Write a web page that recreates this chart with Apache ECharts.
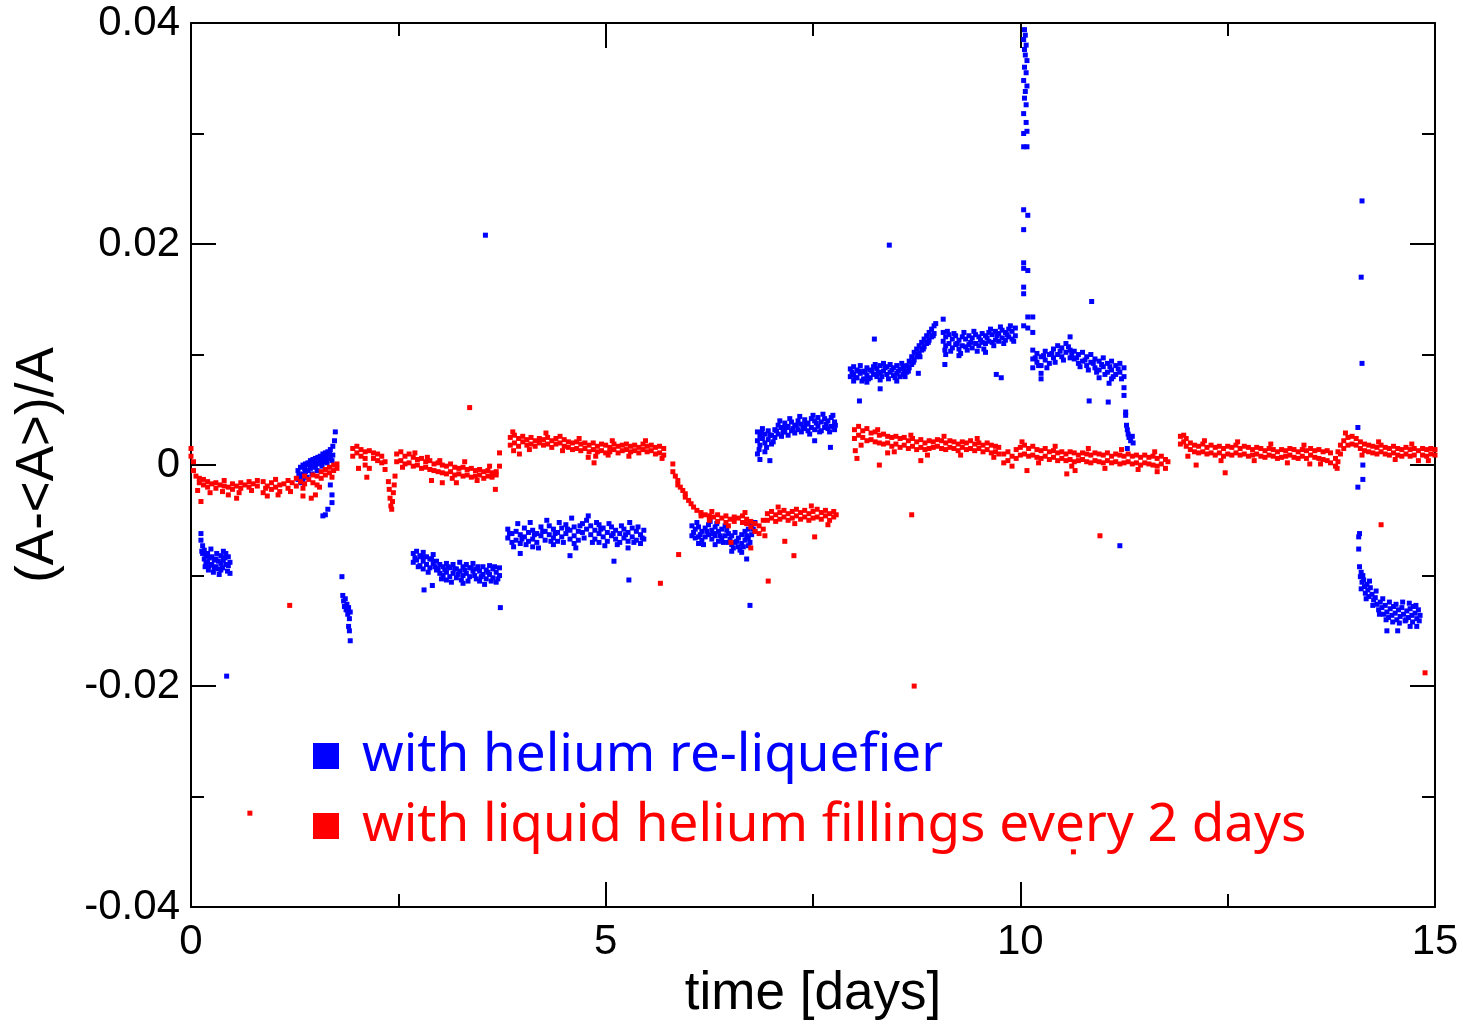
<!DOCTYPE html>
<html>
<head>
<meta charset="utf-8">
<script src="https://cdn.jsdelivr.net/npm/echarts@6/dist/echarts.min.js"></script>
<style>
  html, body { margin: 0; padding: 0; background: #fff; }
  #chart { width: 1463px; height: 1026px; }
</style>
</head>
<body>
<div id="chart"></div>
<script>
// x ticks / y ticks
var xTicks = [0, 5, 10, 15];
var yTicks = [-0.04, -0.02, 0, 0.02, 0.04];

// red: liquid helium fillings, [time, (A-<A>)/A]
var red1 = [[0.0,0.0015],[0.0,0.0008],[0.03,0.0003],[0.03,-0.0005],[0.06,-0.0010],[0.08,-0.0023],[0.10,-0.0012],[0.10,-0.0016],[0.12,-0.0033],[0.15,-0.0013],[0.15,-0.0018],[0.20,-0.0015],[0.20,-0.0020],[0.23,-0.0025],[0.25,-0.0017],[0.30,-0.0016],[0.30,-0.0021],[0.35,-0.0018],[0.38,-0.0024],[0.40,-0.0019],[0.40,-0.0014],[0.45,-0.0020],[0.45,-0.0027],[0.50,-0.0017],[0.50,-0.0022],[0.55,-0.0019],[0.55,-0.0030],[0.58,-0.0025],[0.60,-0.0016],[0.60,-0.0021],[0.65,-0.0018],[0.70,-0.0015],[0.70,-0.0020],[0.73,-0.0023],[0.75,-0.0017],[0.80,-0.0014],[0.80,-0.0019]];
var red2 = [[0.87,-0.0015],[0.87,-0.0025],[0.90,-0.0021],[0.92,-0.0019],[0.92,-0.0028],[0.97,-0.0016],[0.97,-0.0022],[1.02,-0.0020],[1.02,-0.0013],[1.05,-0.0027],[1.07,-0.0018],[1.07,-0.0024],[1.12,-0.0017],[1.17,-0.0014],[1.17,-0.0021],[1.20,-0.0024],[1.22,-0.0016],[1.27,-0.0012],[1.27,-0.0019],[1.32,-0.0015],[1.35,-0.0028],[1.35,-0.0021],[1.37,-0.0010],[1.37,-0.0017],[1.42,-0.0013],[1.45,-0.0030],[1.47,-0.0009],[1.47,-0.0016],[1.50,-0.0027],[1.52,-0.0010],[1.52,-0.0018],[1.55,-0.0020],[1.57,-0.0006],[1.57,-0.0012],[1.62,-0.0004],[1.62,-0.0009],[1.67,-0.0002],[1.67,-0.0007],[1.70,-0.0011],[1.72,0.0000],[1.72,-0.0005],[1.76,0.0001],[1.76,-0.0003]];
var red3 = [[1.95,0.0015],[1.95,0.0008],[2.00,0.0017],[2.00,0.0011],[2.02,-0.0003],[2.05,0.0014],[2.05,0.0008],[2.10,0.0012],[2.10,0.0006],[2.10,0.0000],[2.12,-0.0011],[2.15,0.0013],[2.15,-0.0003],[2.20,0.0011],[2.20,0.0006],[2.25,0.0010],[2.25,0.0004],[2.30,0.0008],[2.30,0.0002],[2.34,0.0003],[2.34,-0.0004],[2.38,-0.0015],[2.39,-0.0022],[2.40,-0.0030],[2.41,-0.0037],[2.42,-0.0040],[2.43,-0.0033],[2.44,-0.0025],[2.45,-0.0018],[2.46,-0.0010]];
var red4 = [[2.48,0.0010],[2.48,0.0003],[2.53,0.0012],[2.53,0.0004],[2.55,-0.0002],[2.58,0.0008],[2.58,0.0001],[2.63,0.0010],[2.63,0.0002],[2.68,0.0007],[2.68,-0.0001],[2.70,0.0011],[2.73,0.0005],[2.73,0.0000],[2.78,0.0006],[2.78,-0.0003],[2.83,0.0003],[2.83,-0.0002],[2.85,0.0007],[2.88,0.0004],[2.88,-0.0004],[2.90,-0.0014],[2.93,0.0001],[2.93,-0.0005],[2.98,0.0002],[2.98,-0.0006],[3.00,0.0004],[3.03,0.0000],[3.03,-0.0007],[3.03,-0.0016],[3.08,-0.0001],[3.08,-0.0008],[3.13,0.0001],[3.13,-0.0006],[3.15,-0.0012],[3.18,-0.0002],[3.18,-0.0009],[3.20,-0.0016],[3.23,-0.0003],[3.23,-0.0008],[3.28,-0.0002],[3.28,-0.0010],[3.30,0.0003],[3.33,-0.0004],[3.33,-0.0009],[3.38,-0.0003],[3.38,-0.0011],[3.43,-0.0005],[3.43,-0.0010],[3.45,-0.0014],[3.48,-0.0004],[3.48,-0.0009],[3.53,-0.0006],[3.53,-0.0012],[3.58,-0.0005],[3.58,-0.0010],[3.60,-0.0001],[3.63,-0.0007],[3.63,-0.0011],[3.67,-0.0022],[3.68,-0.0006],[3.68,-0.0009],[3.72,0.0011],[3.72,-0.0001]];
var red5 = [[3.85,0.0025],[3.85,0.0018],[3.88,0.0030],[3.89,0.0013],[3.90,0.0027],[3.90,0.0020],[3.95,0.0024],[3.95,0.0017],[3.96,0.0010],[4.00,0.0026],[4.00,0.0021],[4.05,0.0023],[4.05,0.0018],[4.08,0.0014],[4.10,0.0025],[4.10,0.0019],[4.15,0.0022],[4.15,0.0017],[4.20,0.0024],[4.20,0.0020],[4.25,0.0023],[4.25,0.0018],[4.28,0.0029],[4.30,0.0025],[4.30,0.0019],[4.35,0.0022],[4.35,0.0016],[4.40,0.0024],[4.40,0.0019],[4.45,0.0026],[4.45,0.0020],[4.48,0.0013],[4.50,0.0023],[4.50,0.0017],[4.55,0.0021],[4.55,0.0016],[4.60,0.0020],[4.60,0.0014],[4.65,0.0021],[4.65,0.0015],[4.68,0.0024],[4.70,0.0019],[4.70,0.0013],[4.75,0.0020],[4.75,0.0015],[4.79,0.0007],[4.80,0.0018],[4.80,0.0012],[4.85,0.0020],[4.85,0.0014],[4.86,0.0002],[4.88,0.0008],[4.90,0.0017],[4.90,0.0012],[4.95,0.0019],[4.95,0.0013],[5.00,0.0018],[5.00,0.0011],[5.03,0.0009],[5.05,0.0016],[5.05,0.0012],[5.08,0.0022],[5.10,0.0019],[5.10,0.0014],[5.15,0.0017],[5.15,0.0011],[5.20,0.0018],[5.20,0.0013],[5.25,0.0019],[5.25,0.0014],[5.28,0.0008],[5.30,0.0017],[5.30,0.0012],[5.35,0.0018],[5.35,0.0013],[5.40,0.0016],[5.40,0.0011],[5.45,0.0019],[5.45,0.0014],[5.48,0.0022],[5.50,0.0017],[5.50,0.0012],[5.55,0.0018],[5.55,0.0013],[5.60,0.0016],[5.60,0.0010],[5.65,0.0017],[5.65,0.0011],[5.68,0.0006],[5.70,0.0015],[5.70,0.0009]];
var red6 = [[5.81,0.0001],[5.81,-0.0006],[5.84,-0.0010],[5.87,-0.0014],[5.87,-0.0018],[5.88,-0.0081],[5.90,-0.0020],[5.93,-0.0023],[5.96,-0.0026],[5.96,-0.0029],[6.00,-0.0032],[6.03,-0.0035],[6.06,-0.0038],[6.10,-0.0041],[6.15,-0.0043],[6.15,-0.0046],[6.20,-0.0045],[6.25,-0.0046],[6.25,-0.0050],[6.28,-0.0042],[6.30,-0.0047],[6.35,-0.0045],[6.35,-0.0051],[6.40,-0.0048],[6.45,-0.0046],[6.45,-0.0052],[6.48,-0.0055],[6.50,-0.0049],[6.51,-0.0070],[6.55,-0.0047],[6.55,-0.0051],[6.60,-0.0048],[6.65,-0.0046],[6.65,-0.0052],[6.68,-0.0043],[6.70,-0.0049],[6.70,-0.0053],[6.75,-0.0051],[6.75,-0.0056],[6.75,-0.0075],[6.80,-0.0053],[6.80,-0.0060],[6.85,-0.0055],[6.85,-0.0062],[6.90,-0.0050],[6.90,-0.0058],[6.92,-0.0064],[6.95,-0.0044],[6.95,-0.0050],[7.00,-0.0042],[7.00,-0.0048],[7.05,-0.0045],[7.05,-0.0051],[7.08,-0.0038],[7.10,-0.0043],[7.10,-0.0049],[7.15,-0.0041],[7.15,-0.0047],[7.16,-0.0069],[7.20,-0.0044],[7.20,-0.0050],[7.25,-0.0042],[7.25,-0.0048],[7.27,-0.0082],[7.28,-0.0053],[7.30,-0.0040],[7.30,-0.0046],[7.35,-0.0043],[7.35,-0.0049],[7.40,-0.0041],[7.40,-0.0047],[7.45,-0.0044],[7.45,-0.0050],[7.48,-0.0037],[7.50,-0.0042],[7.50,-0.0048],[7.52,-0.0065],[7.55,-0.0040],[7.55,-0.0047],[7.60,-0.0043],[7.60,-0.0049],[7.65,-0.0041],[7.65,-0.0046],[7.68,-0.0054],[7.70,-0.0044],[7.70,-0.0050],[7.75,-0.0042],[7.75,-0.0047],[7.78,-0.0045]];
var red7 = [[8.00,0.0032],[8.00,0.0024],[8.01,0.0013],[8.03,0.0006],[8.05,0.0035],[8.05,0.0027],[8.08,0.0018],[8.10,0.0031],[8.10,0.0025],[8.15,0.0033],[8.15,0.0022],[8.20,0.0029],[8.20,0.0023],[8.25,0.0030],[8.25,0.0021],[8.28,0.0032],[8.30,0.0027],[8.30,0.0020],[8.30,0.0000],[8.35,0.0028],[8.35,0.0019],[8.40,0.0026],[8.40,0.0020],[8.40,0.0011],[8.45,0.0025],[8.45,0.0017],[8.48,0.0012],[8.50,0.0026],[8.50,0.0019],[8.55,0.0024],[8.55,0.0016],[8.60,0.0025],[8.60,0.0018],[8.65,0.0022],[8.65,0.0015],[8.68,0.0027],[8.70,0.0024],[8.70,0.0017],[8.75,0.0021],[8.75,0.0014],[8.80,0.0023],[8.80,0.0016],[8.80,0.0004],[8.85,0.0020],[8.85,0.0014],[8.88,0.0009],[8.90,0.0022],[8.90,0.0015],[8.95,0.0021],[8.95,0.0016],[9.00,0.0023],[9.00,0.0017],[9.05,0.0022],[9.05,0.0015],[9.08,0.0026],[9.10,0.0020],[9.10,0.0014],[9.15,0.0022],[9.15,0.0016],[9.20,0.0021],[9.20,0.0015],[9.25,0.0019],[9.25,0.0013],[9.28,0.0009],[9.30,0.0021],[9.30,0.0016],[9.35,0.0020],[9.35,0.0014],[9.40,0.0022],[9.40,0.0015],[9.45,0.0019],[9.45,0.0013],[9.48,0.0024],[9.50,0.0020],[9.50,0.0015],[9.55,0.0018],[9.55,0.0012],[9.60,0.0020],[9.60,0.0014],[9.65,0.0018],[9.65,0.0011],[9.68,0.0007],[9.70,0.0017],[9.70,0.0012],[9.74,0.0016],[9.74,0.0010]];
var red8 = [[9.80,0.0010],[9.80,0.0002],[9.85,0.0012],[9.85,0.0004],[9.90,0.0008],[9.90,-0.0001],[9.95,0.0014],[9.95,0.0006],[10.00,0.0016],[10.00,0.0009],[10.02,0.0021],[10.05,0.0018],[10.05,0.0010],[10.08,-0.0005],[10.10,0.0015],[10.10,0.0008],[10.15,0.0017],[10.15,0.0009],[10.20,0.0014],[10.20,0.0007],[10.22,0.0002],[10.25,0.0013],[10.25,0.0006],[10.30,0.0015],[10.30,0.0008],[10.35,0.0012],[10.35,0.0005],[10.40,0.0013],[10.40,0.0007],[10.42,0.0017],[10.45,0.0011],[10.45,0.0004],[10.50,0.0012],[10.50,0.0006],[10.55,0.0010],[10.55,0.0004],[10.56,-0.0008],[10.60,0.0012],[10.60,0.0005],[10.62,-0.0001],[10.65,0.0011],[10.65,0.0003],[10.66,-0.0005],[10.70,0.0009],[10.70,0.0004],[10.75,0.0011],[10.75,0.0005],[10.80,0.0010],[10.80,0.0003],[10.82,0.0015],[10.85,0.0009],[10.85,0.0002],[10.90,0.0011],[10.90,0.0004],[10.95,0.0010],[10.95,0.0003],[11.00,0.0009],[11.00,0.0002],[11.02,-0.0003],[11.05,0.0011],[11.05,0.0004],[11.10,0.0008],[11.10,0.0002],[11.15,0.0010],[11.15,0.0003],[11.20,0.0009],[11.20,0.0001],[11.22,0.0014],[11.25,0.0008],[11.25,0.0002],[11.30,0.0010],[11.30,0.0003],[11.35,0.0008],[11.35,0.0001],[11.40,0.0009],[11.40,0.0002],[11.42,-0.0004],[11.45,0.0007],[11.45,0.0000],[11.50,0.0009],[11.50,0.0002],[11.55,0.0007],[11.55,0.0001],[11.60,0.0008],[11.60,0.0000],[11.62,0.0012],[11.65,0.0006],[11.65,-0.0001],[11.65,-0.0006],[11.70,0.0008],[11.70,0.0001],[11.75,0.0005],[11.75,-0.0003],[11.78,0.0003]];
var red9 = [[11.93,0.0026],[11.93,0.0019],[11.97,0.0027],[11.97,0.0021],[12.00,0.0024],[12.00,0.0017],[12.02,0.0008],[12.05,0.0020],[12.05,0.0014],[12.10,0.0018],[12.10,0.0012],[12.12,0.0000],[12.15,0.0017],[12.15,0.0011],[12.20,0.0019],[12.20,0.0012],[12.22,0.0022],[12.25,0.0016],[12.25,0.0010],[12.30,0.0018],[12.30,0.0011],[12.35,0.0016],[12.35,0.0009],[12.40,0.0017],[12.40,0.0011],[12.42,0.0004],[12.45,0.0015],[12.45,0.0008],[12.47,-0.0007],[12.50,0.0017],[12.50,0.0010],[12.55,0.0016],[12.55,0.0009],[12.60,0.0018],[12.60,0.0011],[12.62,0.0021],[12.65,0.0015],[12.65,0.0009],[12.70,0.0017],[12.70,0.0010],[12.75,0.0016],[12.75,0.0008],[12.80,0.0014],[12.80,0.0009],[12.82,0.0004],[12.85,0.0016],[12.85,0.0010],[12.90,0.0015],[12.90,0.0008],[12.95,0.0013],[12.95,0.0007],[13.00,0.0015],[13.00,0.0009],[13.02,0.0019],[13.05,0.0014],[13.05,0.0008],[13.10,0.0012],[13.10,0.0006],[13.15,0.0014],[13.15,0.0007],[13.20,0.0013],[13.20,0.0008],[13.22,0.0002],[13.25,0.0015],[13.25,0.0009],[13.30,0.0014],[13.30,0.0007],[13.35,0.0012],[13.35,0.0006],[13.40,0.0014],[13.40,0.0008],[13.42,0.0018],[13.45,0.0013],[13.45,0.0006],[13.49,0.0001],[13.50,0.0015],[13.50,0.0009],[13.55,0.0013],[13.55,0.0007],[13.60,0.0014],[13.60,0.0006],[13.62,0.0001],[13.65,0.0012],[13.65,0.0005],[13.70,0.0013],[13.70,0.0004],[13.74,0.0011],[13.74,0.0002]];
var red10 = [[13.80,0.0006],[13.80,-0.0001],[13.82,-0.0003],[13.83,0.0012],[13.83,0.0003],[13.86,0.0018],[13.86,0.0010],[13.90,0.0022],[13.90,0.0015],[13.92,0.0029],[13.95,0.0025],[13.95,0.0018],[14.00,0.0026],[14.00,0.0019],[14.05,0.0024],[14.05,0.0018],[14.10,0.0021],[14.10,0.0015],[14.12,0.0009],[14.15,0.0019],[14.15,0.0013],[14.20,0.0018],[14.20,0.0012],[14.25,0.0017],[14.25,0.0011],[14.30,0.0016],[14.30,0.0010],[14.32,0.0021],[14.35,0.0018],[14.35,0.0012],[14.40,0.0016],[14.40,0.0010],[14.45,0.0015],[14.45,0.0009],[14.50,0.0017],[14.50,0.0011],[14.52,0.0005],[14.55,0.0015],[14.55,0.0009],[14.60,0.0014],[14.60,0.0008],[14.65,0.0016],[14.65,0.0010],[14.70,0.0014],[14.70,0.0008],[14.72,0.0019],[14.75,0.0015],[14.75,0.0009],[14.80,0.0013],[14.80,0.0004],[14.85,0.0015],[14.85,0.0009],[14.90,0.0014],[14.90,0.0008],[14.92,0.0004],[14.95,0.0015],[14.95,0.0010],[15.00,0.0014],[15.00,0.0009]];
var redOutliers = [[0.71,-0.0315],[1.19,-0.0127],[3.36,0.0052],[5.66,-0.0107],[6.96,-0.0105],[8.69,-0.0045],[8.72,-0.0200],[10.64,-0.0350],[10.96,-0.0064],[14.35,-0.0054],[14.88,-0.0188]];

// blue: helium re-liquefier, [time, (A-<A>)/A]
var blue1 = [[0.12,-0.0062],[0.12,-0.0068],[0.13,-0.0078],[0.14,-0.0073],[0.14,-0.0080],[0.16,-0.0077],[0.16,-0.0085],[0.17,-0.0092],[0.18,-0.0082],[0.18,-0.0089],[0.20,-0.0080],[0.20,-0.0088],[0.21,-0.0095],[0.22,-0.0084],[0.22,-0.0091],[0.24,-0.0076],[0.25,-0.0083],[0.25,-0.0090],[0.27,-0.0097],[0.28,-0.0086],[0.28,-0.0093],[0.30,-0.0085],[0.30,-0.0092],[0.31,-0.0080],[0.33,-0.0087],[0.33,-0.0094],[0.34,-0.0099],[0.36,-0.0082],[0.36,-0.0089],[0.36,-0.0095],[0.38,-0.0093],[0.39,-0.0078],[0.39,-0.0086],[0.41,-0.0084],[0.42,-0.0080],[0.42,-0.0090],[0.44,-0.0096],[0.45,-0.0083],[0.45,-0.0091],[0.47,-0.0088],[0.47,-0.0098]];
var blue2 = [[1.29,-0.0005],[1.29,-0.0013],[1.30,-0.0009],[1.32,-0.0002],[1.32,-0.0010],[1.33,-0.0016],[1.35,0.0000],[1.35,-0.0008],[1.35,-0.0014],[1.37,-0.0003],[1.38,0.0001],[1.38,-0.0006],[1.40,-0.0011],[1.41,0.0002],[1.41,-0.0005],[1.43,0.0000],[1.44,0.0004],[1.44,-0.0003],[1.46,-0.0008],[1.47,0.0005],[1.47,-0.0001],[1.49,0.0002],[1.50,0.0006],[1.50,-0.0002],[1.52,-0.0005],[1.53,0.0007],[1.53,0.0001],[1.55,0.0005],[1.56,0.0008],[1.56,0.0002],[1.58,-0.0001],[1.59,0.0010],[1.59,0.0003],[1.59,-0.0046],[1.61,0.0007],[1.62,0.0011],[1.62,0.0004],[1.62,-0.0045],[1.64,0.0002],[1.65,0.0012],[1.65,0.0006],[1.65,-0.0040],[1.67,0.0010],[1.68,0.0014],[1.68,0.0007],[1.68,-0.0018],[1.70,0.0004],[1.70,-0.0027],[1.70,-0.0034],[1.71,0.0017],[1.71,0.0009],[1.73,0.0022],[1.74,0.0030]];
var blue3 = [[1.82,-0.0101],[1.83,-0.0118],[1.84,-0.0123],[1.85,-0.0128],[1.86,-0.0121],[1.87,-0.0131],[1.88,-0.0126],[1.89,-0.0135],[1.90,-0.0129],[1.91,-0.0139],[1.92,-0.0133],[1.90,-0.0146],[1.91,-0.0150],[1.92,-0.0159]];
var blue4 = [[2.68,-0.0080],[2.68,-0.0088],[2.70,-0.0084],[2.72,-0.0078],[2.72,-0.0086],[2.74,-0.0092],[2.76,-0.0082],[2.76,-0.0091],[2.78,-0.0083],[2.80,-0.0079],[2.80,-0.0087],[2.80,-0.0094],[2.81,-0.0113],[2.84,-0.0083],[2.84,-0.0090],[2.86,-0.0097],[2.88,-0.0085],[2.88,-0.0093],[2.90,-0.0085],[2.91,-0.0109],[2.92,-0.0081],[2.92,-0.0089],[2.94,-0.0092],[2.96,-0.0087],[2.96,-0.0095],[2.98,-0.0094],[3.00,-0.0090],[3.00,-0.0098],[3.02,-0.0103],[3.04,-0.0092],[3.04,-0.0100],[3.06,-0.0095],[3.08,-0.0089],[3.08,-0.0097],[3.08,-0.0104],[3.10,-0.0092],[3.12,-0.0093],[3.12,-0.0101],[3.14,-0.0106],[3.16,-0.0090],[3.16,-0.0098],[3.18,-0.0094],[3.20,-0.0094],[3.20,-0.0102],[3.22,-0.0099],[3.24,-0.0088],[3.24,-0.0096],[3.26,-0.0104],[3.28,-0.0092],[3.28,-0.0100],[3.28,-0.0107],[3.30,-0.0095],[3.32,-0.0090],[3.32,-0.0098],[3.34,-0.0105],[3.36,-0.0093],[3.36,-0.0101],[3.38,-0.0093],[3.40,-0.0089],[3.40,-0.0096],[3.42,-0.0100],[3.44,-0.0094],[3.44,-0.0103],[3.46,-0.0092],[3.48,-0.0096],[3.48,-0.0105],[3.50,-0.0101],[3.52,-0.0092],[3.52,-0.0099],[3.54,-0.0108],[3.56,-0.0095],[3.56,-0.0103],[3.58,-0.0097],[3.60,-0.0091],[3.60,-0.0099],[3.62,-0.0105],[3.64,-0.0094],[3.64,-0.0102],[3.66,-0.0092],[3.68,-0.0097],[3.68,-0.0106],[3.70,-0.0103],[3.72,-0.0093],[3.72,-0.0100],[3.73,-0.0129]];
var blue5 = [[3.82,-0.0058],[3.82,-0.0066],[3.84,-0.0062],[3.87,-0.0062],[3.87,-0.0070],[3.89,-0.0074],[3.92,-0.0060],[3.92,-0.0068],[3.94,-0.0053],[3.97,-0.0063],[3.97,-0.0071],[3.97,-0.0080],[3.99,-0.0067],[4.02,-0.0057],[4.02,-0.0065],[4.04,-0.0072],[4.07,-0.0061],[4.07,-0.0069],[4.09,-0.0052],[4.12,-0.0059],[4.12,-0.0067],[4.12,-0.0074],[4.14,-0.0063],[4.17,-0.0062],[4.17,-0.0070],[4.19,-0.0075],[4.22,-0.0056],[4.22,-0.0064],[4.24,-0.0060],[4.27,-0.0060],[4.27,-0.0068],[4.29,-0.0050],[4.32,-0.0055],[4.32,-0.0063],[4.34,-0.0069],[4.37,-0.0058],[4.37,-0.0066],[4.37,-0.0072],[4.39,-0.0062],[4.42,-0.0061],[4.42,-0.0069],[4.44,-0.0052],[4.47,-0.0057],[4.47,-0.0065],[4.49,-0.0070],[4.52,-0.0054],[4.52,-0.0062],[4.54,-0.0058],[4.57,-0.0059],[4.57,-0.0067],[4.57,-0.0082],[4.59,-0.0048],[4.62,-0.0056],[4.62,-0.0064],[4.62,-0.0071],[4.64,-0.0075],[4.67,-0.0060],[4.67,-0.0068],[4.69,-0.0055],[4.72,-0.0053],[4.72,-0.0061],[4.74,-0.0066],[4.77,-0.0050],[4.77,-0.0058],[4.79,-0.0046],[4.82,-0.0055],[4.82,-0.0063],[4.84,-0.0070],[4.87,-0.0059],[4.87,-0.0067],[4.89,-0.0052],[4.92,-0.0054],[4.92,-0.0062],[4.92,-0.0070],[4.94,-0.0058],[4.97,-0.0057],[4.97,-0.0065],[4.99,-0.0073],[5.02,-0.0061],[5.02,-0.0069],[5.04,-0.0053],[5.07,-0.0056],[5.07,-0.0064],[5.09,-0.0062],[5.10,-0.0087],[5.12,-0.0059],[5.12,-0.0067],[5.14,-0.0072],[5.17,-0.0062],[5.17,-0.0070],[5.19,-0.0055],[5.22,-0.0058],[5.22,-0.0066],[5.24,-0.0063],[5.27,-0.0061],[5.27,-0.0069],[5.27,-0.0075],[5.28,-0.0104],[5.29,-0.0052],[5.32,-0.0057],[5.32,-0.0065],[5.34,-0.0070],[5.37,-0.0060],[5.37,-0.0068],[5.39,-0.0056],[5.42,-0.0063],[5.42,-0.0071],[5.44,-0.0066],[5.46,-0.0059],[5.46,-0.0067]];
var blue6 = [[6.04,-0.0055],[6.04,-0.0064],[6.06,-0.0061],[6.08,-0.0058],[6.08,-0.0066],[6.10,-0.0052],[6.12,-0.0056],[6.12,-0.0065],[6.12,-0.0071],[6.14,-0.0063],[6.16,-0.0060],[6.16,-0.0068],[6.18,-0.0072],[6.20,-0.0057],[6.20,-0.0065],[6.22,-0.0060],[6.24,-0.0054],[6.24,-0.0063],[6.26,-0.0051],[6.28,-0.0059],[6.28,-0.0067],[6.30,-0.0062],[6.32,-0.0056],[6.32,-0.0064],[6.32,-0.0072],[6.34,-0.0053],[6.36,-0.0060],[6.36,-0.0069],[6.38,-0.0064],[6.40,-0.0058],[6.40,-0.0066],[6.42,-0.0070],[6.44,-0.0055],[6.44,-0.0064],[6.46,-0.0059],[6.48,-0.0062],[6.48,-0.0070],[6.50,-0.0067],[6.52,-0.0064],[6.52,-0.0072],[6.52,-0.0078],[6.54,-0.0075],[6.56,-0.0061],[6.56,-0.0070],[6.58,-0.0069],[6.60,-0.0066],[6.60,-0.0074],[6.62,-0.0077],[6.64,-0.0063],[6.64,-0.0071],[6.64,-0.0079],[6.66,-0.0074],[6.68,-0.0060],[6.68,-0.0068],[6.70,-0.0064],[6.70,-0.0085],[6.72,-0.0058],[6.72,-0.0066],[6.72,-0.0073],[6.74,-0.0070],[6.74,-0.0127],[6.76,-0.0055],[6.76,-0.0063],[6.78,-0.0058],[6.80,-0.0052],[6.80,-0.0060]];
var blue7 = [[6.83,0.0030],[6.83,0.0022],[6.83,0.0010],[6.85,0.0014],[6.86,0.0026],[6.86,0.0018],[6.86,0.0005],[6.88,0.0029],[6.89,0.0033],[6.89,0.0024],[6.92,0.0028],[6.92,0.0020],[6.92,0.0012],[6.94,0.0016],[6.96,0.0031],[6.96,0.0023],[6.98,0.0004],[6.98,0.0027],[7.00,0.0027],[7.00,0.0019],[7.02,0.0021],[7.04,0.0032],[7.04,0.0025],[7.06,0.0031],[7.08,0.0036],[7.08,0.0028],[7.10,0.0040],[7.12,0.0034],[7.12,0.0026],[7.14,0.0030],[7.16,0.0038],[7.16,0.0030],[7.18,0.0034],[7.20,0.0035],[7.20,0.0027],[7.22,0.0042],[7.24,0.0039],[7.24,0.0031],[7.26,0.0033],[7.28,0.0036],[7.28,0.0029],[7.30,0.0036],[7.32,0.0040],[7.32,0.0032],[7.34,0.0044],[7.36,0.0037],[7.36,0.0030],[7.38,0.0034],[7.40,0.0041],[7.40,0.0033],[7.42,0.0037],[7.44,0.0038],[7.44,0.0031],[7.46,0.0028],[7.48,0.0042],[7.48,0.0034],[7.50,0.0045],[7.52,0.0040],[7.52,0.0032],[7.52,0.0022],[7.54,0.0038],[7.56,0.0043],[7.56,0.0035],[7.58,0.0030],[7.60,0.0039],[7.60,0.0031],[7.62,0.0046],[7.64,0.0042],[7.64,0.0034],[7.66,0.0037],[7.68,0.0040],[7.68,0.0033],[7.70,0.0030],[7.71,0.0016],[7.72,0.0043],[7.72,0.0035],[7.74,0.0045],[7.76,0.0039],[7.76,0.0032],[7.77,0.0036]];
var blue8 = [[7.95,0.0087],[7.95,0.0080],[7.97,0.0084],[7.99,0.0089],[7.99,0.0082],[7.99,0.0076],[8.01,0.0079],[8.03,0.0086],[8.03,0.0079],[8.05,0.0085],[8.06,0.0058],[8.07,0.0090],[8.07,0.0083],[8.09,0.0076],[8.11,0.0085],[8.11,0.0078],[8.13,0.0084],[8.15,0.0088],[8.15,0.0081],[8.15,0.0075],[8.17,0.0078],[8.19,0.0086],[8.19,0.0079],[8.21,0.0085],[8.23,0.0089],[8.23,0.0082],[8.24,0.0114],[8.25,0.0091],[8.27,0.0087],[8.27,0.0080],[8.29,0.0084],[8.31,0.0090],[8.31,0.0083],[8.31,0.0077],[8.31,0.0069],[8.33,0.0080],[8.35,0.0092],[8.35,0.0085],[8.37,0.0088],[8.39,0.0089],[8.39,0.0082],[8.41,0.0078],[8.43,0.0091],[8.43,0.0084],[8.45,0.0086],[8.47,0.0088],[8.47,0.0081],[8.49,0.0079],[8.51,0.0090],[8.51,0.0083],[8.51,0.0076],[8.53,0.0085],[8.55,0.0087],[8.55,0.0080],[8.57,0.0092],[8.59,0.0089],[8.59,0.0082],[8.60,0.0086],[8.61,0.0080],[8.63,0.0090],[8.63,0.0084],[8.65,0.0085],[8.66,0.0094],[8.66,0.0088],[8.69,0.0098],[8.69,0.0091],[8.71,0.0093],[8.72,0.0102],[8.72,0.0095],[8.75,0.0105],[8.75,0.0098],[8.77,0.0083],[8.77,0.0100],[8.78,0.0108],[8.78,0.0101],[8.79,0.0098],[8.81,0.0111],[8.81,0.0104],[8.83,0.0105],[8.84,0.0114],[8.84,0.0107],[8.87,0.0117],[8.87,0.0110],[8.89,0.0111],[8.90,0.0120],[8.90,0.0113],[8.93,0.0123],[8.93,0.0116],[8.95,0.0117],[8.96,0.0126],[8.96,0.0119],[8.98,0.0128]];
var blue9 = [[9.07,0.0132],[9.07,0.0120],[9.07,0.0112],[9.09,0.0091],[9.09,0.0104],[9.10,0.0116],[9.10,0.0108],[9.10,0.0100],[9.12,0.0121],[9.14,0.0118],[9.14,0.0110],[9.16,0.0103],[9.18,0.0114],[9.18,0.0106],[9.20,0.0119],[9.22,0.0117],[9.22,0.0109],[9.24,0.0110],[9.26,0.0113],[9.26,0.0105],[9.26,0.0099],[9.28,0.0101],[9.30,0.0116],[9.30,0.0108],[9.32,0.0120],[9.34,0.0114],[9.34,0.0107],[9.36,0.0104],[9.38,0.0117],[9.38,0.0109],[9.40,0.0111],[9.42,0.0115],[9.42,0.0106],[9.44,0.0121],[9.46,0.0118],[9.46,0.0110],[9.48,0.0103],[9.50,0.0116],[9.50,0.0108],[9.52,0.0113],[9.54,0.0119],[9.54,0.0111],[9.56,0.0105],[9.58,0.0117],[9.58,0.0110],[9.58,0.0102],[9.60,0.0115],[9.62,0.0120],[9.62,0.0112],[9.64,0.0123],[9.66,0.0118],[9.66,0.0111],[9.68,0.0108],[9.70,0.0121],[9.70,0.0113],[9.71,0.0082],[9.72,0.0117],[9.74,0.0119],[9.74,0.0112],[9.76,0.0125],[9.77,0.0079],[9.78,0.0122],[9.78,0.0115],[9.80,0.0110],[9.82,0.0120],[9.82,0.0113],[9.84,0.0118],[9.86,0.0123],[9.86,0.0116],[9.88,0.0126],[9.90,0.0121],[9.90,0.0114],[9.92,0.0112],[9.94,0.0124],[9.94,0.0117]];
var blueSpike = [[10.05,0.0394],[10.06,0.0389],[10.04,0.0385],[10.07,0.0380],[10.05,0.0376],[10.06,0.0371],[10.08,0.0366],[10.05,0.0360],[10.07,0.0355],[10.04,0.0348],[10.08,0.0343],[10.06,0.0338],[10.05,0.0332],[10.07,0.0326],[10.04,0.0318],[10.07,0.0310],[10.08,0.0302],[10.04,0.0300],[10.04,0.0288],[10.08,0.0288],[10.04,0.0231],[10.09,0.0226],[10.04,0.0213],[10.04,0.0183],[10.04,0.0178],[10.09,0.0176],[10.04,0.0161],[10.04,0.0155],[10.09,0.0134],[10.09,0.0124],[10.04,0.0126]];
var blue11 = [[10.15,0.0134],[10.15,0.0120],[10.15,0.0104],[10.15,0.0096],[10.15,0.0088],[10.18,0.0097],[10.20,0.0101],[10.20,0.0093],[10.22,0.0090],[10.25,0.0098],[10.25,0.0090],[10.25,0.0083],[10.25,0.0078],[10.28,0.0099],[10.30,0.0103],[10.30,0.0095],[10.32,0.0088],[10.35,0.0100],[10.35,0.0092],[10.38,0.0101],[10.40,0.0105],[10.40,0.0097],[10.42,0.0093],[10.45,0.0108],[10.45,0.0100],[10.48,0.0103],[10.50,0.0106],[10.50,0.0098],[10.52,0.0095],[10.55,0.0110],[10.55,0.0102],[10.58,0.0107],[10.60,0.0116],[10.60,0.0104],[10.60,0.0097],[10.62,0.0100],[10.65,0.0103],[10.65,0.0096],[10.68,0.0097],[10.70,0.0100],[10.70,0.0092],[10.72,0.0089],[10.75,0.0102],[10.75,0.0094],[10.78,0.0095],[10.80,0.0098],[10.80,0.0090],[10.82,0.0086],[10.83,0.0058],[10.85,0.0100],[10.85,0.0093],[10.86,0.0148],[10.88,0.0092],[10.90,0.0096],[10.90,0.0088],[10.92,0.0084],[10.95,0.0094],[10.95,0.0086],[10.95,0.0079],[10.98,0.0091],[11.00,0.0097],[11.00,0.0089],[11.02,0.0082],[11.05,0.0092],[11.05,0.0084],[11.06,0.0057],[11.07,0.0074],[11.08,0.0089],[11.10,0.0094],[11.10,0.0086],[11.10,0.0078],[11.12,0.0080],[11.15,0.0090],[11.15,0.0082],[11.18,0.0087],[11.20,0.0092],[11.20,0.0084],[11.20,-0.0073],[11.22,0.0078],[11.25,0.0088],[11.25,0.0080],[11.25,0.0070],[11.25,0.0063],[11.27,0.0048],[11.27,0.0045],[11.28,0.0036],[11.29,0.0032],[11.29,0.0015],[11.30,0.0028],[11.31,0.0025],[11.33,0.0022],[11.35,0.0026],[11.36,0.0020]];
var blue12 = [[14.07,0.0034],[14.13,0.0000],[14.13,-0.0013],[14.07,-0.0020],[14.09,-0.0062],[14.08,-0.0065],[14.08,-0.0076],[14.09,-0.0092],[14.11,-0.0097],[14.10,-0.0101],[14.12,-0.0106],[14.11,-0.0112],[14.13,-0.0100],[14.14,-0.0104],[14.15,-0.0110],[14.16,-0.0116],[14.17,-0.0121],[14.18,-0.0108],[14.19,-0.0113],[14.20,-0.0119],[14.21,-0.0105],[14.22,-0.0111],[14.24,-0.0117],[14.25,-0.0127],[14.26,-0.0122],[14.28,-0.0120],[14.29,-0.0114],[14.30,-0.0126],[14.32,-0.0131],[14.33,-0.0135],[14.34,-0.0124],[14.36,-0.0129],[14.37,-0.0121],[14.38,-0.0135],[14.40,-0.0127],[14.41,-0.0140],[14.42,-0.0133],[14.42,-0.0150],[14.44,-0.0138],[14.45,-0.0124],[14.46,-0.0130],[14.48,-0.0136],[14.49,-0.0142],[14.50,-0.0128],[14.52,-0.0134],[14.53,-0.0126],[14.54,-0.0140],[14.55,-0.0150],[14.56,-0.0131],[14.57,-0.0143],[14.58,-0.0137],[14.60,-0.0129],[14.61,-0.0124],[14.62,-0.0135],[14.64,-0.0141],[14.65,-0.0140],[14.66,-0.0132],[14.68,-0.0138],[14.69,-0.0125],[14.70,-0.0130],[14.70,-0.0146],[14.72,-0.0136],[14.73,-0.0142],[14.74,-0.0128],[14.76,-0.0134],[14.77,-0.0127],[14.78,-0.0139],[14.78,-0.0146],[14.80,-0.0131],[14.81,-0.0141],[14.82,-0.0136]];
var blueOutliers = [[0.43,-0.0191],[3.55,0.0208],[8.42,0.0199],[14.12,0.0239],[14.11,0.0170],[14.12,0.0092]];

var redData = [].concat(red1, red2, red3, red4, red5, red6, red7, red8, red9, red10, redOutliers);
var blueData = [].concat(blue1, blue2, blue3, blue4, blue5, blue6, blue7, blue8, blue9, blueSpike, blue11, blue12, blueOutliers);

var FONT = '"Liberation Sans", Arial, Helvetica, sans-serif';
var LEG_FONT = '"Noto Sans", "Open Sans", sans-serif';

function axisBase(pos, showLabel) {
    return {
        type: 'value',
        position: pos,
        axisLine: { show: true, onZero: false, lineStyle: { color: '#000', width: 2 } },
        axisTick: { show: true, inside: true, length: 25, lineStyle: { color: '#000', width: 2 } },
        minorTick: { show: true, splitNumber: 2, length: 13, lineStyle: { color: '#000', width: 2 } },
        splitLine: { show: false },
        axisLabel: { show: showLabel, color: '#000', fontSize: 42, fontFamily: FONT }
    };
}

var chart = echarts.init(document.getElementById('chart'));

var xBottom = axisBase('bottom', true);
xBottom.min = xTicks[0]; xBottom.max = xTicks[xTicks.length - 1]; xBottom.interval = 5;
xBottom.axisLabel.margin = 14;
xBottom.name = 'time [days]';
xBottom.nameLocation = 'middle';
xBottom.nameGap = 55;
xBottom.nameTextStyle = { color: '#000', fontSize: 53, fontFamily: FONT };

var xTop = axisBase('top', false);
xTop.min = xTicks[0]; xTop.max = xTicks[xTicks.length - 1]; xTop.interval = 5;

var yLeft = axisBase('left', true);
yLeft.min = yTicks[0]; yLeft.max = yTicks[yTicks.length - 1]; yLeft.interval = 0.02;
yLeft.axisLabel.margin = 11;
yLeft.name = '(A-<A>)/A';
yLeft.nameLocation = 'middle';
yLeft.nameGap = 126;
yLeft.nameTextStyle = { color: '#000', fontSize: 53, fontFamily: FONT };

var yRight = axisBase('right', false);
yRight.min = yTicks[0]; yRight.max = yTicks[yTicks.length - 1]; yRight.interval = 0.02;

chart.setOption({
    animation: false,
    backgroundColor: '#fff',
    grid: { left: 191, right: 28, top: 23, bottom: 109, containLabel: false },
    legend: {
        orient: 'vertical',
        left: 308,
        top: 721,
        icon: 'rect',
        itemWidth: 26,
        itemHeight: 26,
        itemGap: 10,
        selectedMode: false,
        textStyle: { fontSize: 53, fontFamily: LEG_FONT, lineHeight: 60, padding: [0, 0, 0, 18] },
        data: [
            { name: 'with helium re-liquefier', textStyle: { color: '#0000ff' } },
            { name: 'with liquid helium fillings every 2 days', textStyle: { color: '#ff0000' } }
        ]
    },
    xAxis: [xBottom, xTop],
    yAxis: [yLeft, yRight],
    series: [
        {
            name: 'with helium re-liquefier',
            type: 'scatter',
            symbol: 'rect',
            symbolSize: 5,
            itemStyle: { color: '#0000ff', opacity: 1 },
            data: blueData
        },
        {
            name: 'with liquid helium fillings every 2 days',
            type: 'scatter',
            symbol: 'rect',
            symbolSize: 5,
            itemStyle: { color: '#ff0000', opacity: 1 },
            data: redData
        }
    ]
});
</script>
</body>
</html>
